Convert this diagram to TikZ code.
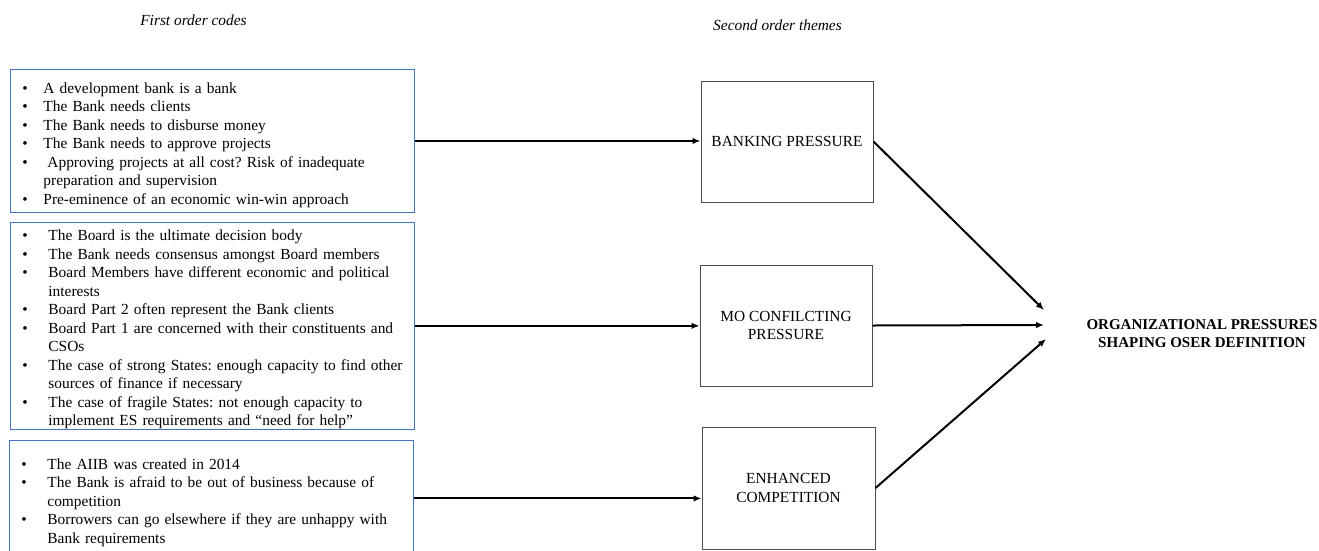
\documentclass[tikz,border=0pt]{standalone}
\usepackage{fontspec}
\setmainfont{Liberation Serif}
\usepackage{tikz}
\usetikzlibrary{arrows,arrows.meta}
\definecolor{codeblue}{RGB}{68,114,196}
\frenchspacing
\newcommand{\codesize}{\fontsize{15.4pt}{18.5pt}\selectfont}
\newcommand{\citem}[2][34pt]{\par\noindent\hangindent=#1\hangafter=1\makebox[#1][l]{\hspace{8pt}\textbullet}#2\par}
\tikzstyle{heading}=[font=\codesize\itshape]
\tikzstyle{codes}=[draw=codeblue, line width=0.9pt, anchor=north west, inner xsep=4pt, inner ysep=0pt, text width=396pt, align=left, font=\codesize]
\tikzstyle{theme}=[draw=black!70, line width=1pt, minimum width=172pt, minimum height=121pt, align=center, font=\codesize]
\tikzstyle{result}=[align=center, font=\fontsize{15pt}{18pt}\selectfont\bfseries]
\tikzstyle{link}=[-{Latex[length=8pt,width=6.5pt]}, line width=2pt]

\begin{document}
\begin{tikzpicture}[x=1pt, y=-1pt]
	\useasboundingbox (0,0) rectangle (1319,550);
	\node[heading] (first) at (193.5,20) {First order codes};
	\node[heading] (second) at (777.5,25) {Second order themes};
	\node[codes, minimum height=143pt] (bank) at (10,69) {%
		\citem[29pt]{A development bank is a bank}
		\citem[29pt]{The Bank needs clients}
		\citem[29pt]{The Bank needs to disburse money}
		\citem[29pt]{The Bank needs to approve projects}
		\citem[29pt]{\hspace{4pt}Approving projects at all cost? Risk of inadequate\newline preparation and supervision}
		\citem[29pt]{Pre-eminence of an economic win-win approach}};
	\node[codes, minimum height=206pt] (board) at (10,222) {%
		\citem{The Board is the ultimate decision body}
		\citem{The Bank needs consensus amongst Board members}
		\citem{Board Members have different economic and political\newline interests}
		\citem{Board Part 2 often represent the Bank clients}
		\citem{Board Part 1 are concerned with their constituents and\newline CSOs}
		\citem{The case of strong States: enough capacity to find other\newline sources of finance if necessary}
		\citem{The case of fragile States: not enough capacity to\newline implement ES requirements and “need for help”}};
	\node[codes, minimum height=116pt] (aiib) at (9,440) {%
		\citem{The AIIB was created in 2014}
		\citem{The Bank is afraid to be out of business because of\newline competition}
		\citem{Borrowers can go elsewhere if they are unhappy with\newline Bank requirements}};
	\node[theme] (banking) at (787,141.5) {BANKING PRESSURE};
	\node[theme] (conflict) at (786,325.5) {MO CONFILCTING\\PRESSURE};
	\node[theme, minimum width=173pt, minimum height=122pt] (competition) at (788.5,488) {ENHANCED\\COMPETITION};
	\node[result] (org) at (1202,334) {ORGANIZATIONAL PRESSURES\\SHAPING OSER DEFINITION};
	\coordinate (in1) at (1044,310);
	\coordinate (in2) at (1044,325);
	\coordinate (in3) at (1046,339);
	\draw[link] (bank.east) -- (bank.east -| banking.west);
	\draw[link] (board.east) -- (board.east -| conflict.west);
	\draw[link] (aiib.east) -- (aiib.east -| competition.west);
	\draw[link] (banking.east) -- (in1);
	\draw[link] (conflict.east) -- (in2);
	\draw[link] (competition.east) -- (in3);
\end{tikzpicture}
\end{document}
